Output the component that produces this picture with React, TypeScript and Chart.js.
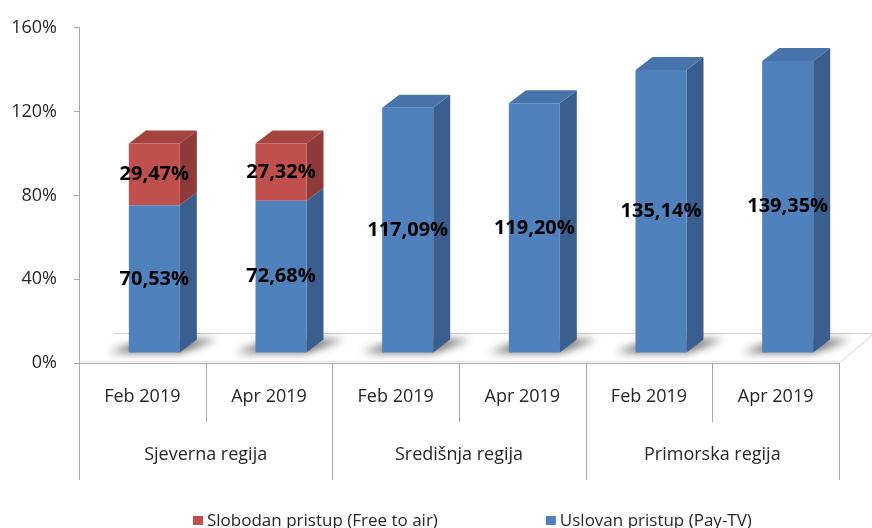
import React, { useEffect, useRef } from "react";
import { Chart, registerables } from "chart.js";

Chart.register(...registerables);

// ---- data ----
const categories = ["Feb 2019", "Apr 2019", "Feb 2019", "Apr 2019", "Feb 2019", "Apr 2019"];
const groups = ["Sjeverna regija", "Središnja regija", "Primorska regija"];
const payTv = [70.53, 72.68, 117.09, 119.2, 135.14, 139.35];
const freeToAir: (number | null)[] = [29.47, 27.32, null, null, null, null];
const yTicks = [0, 40, 80, 120, 160];
const seriesNames = ["Uslovan pristup (Pay-TV)", "Slobodan pristup (Free to air)"];

// ---- style ----
const FONT = '"Open Sans", "Noto Sans", sans-serif';
const TEXT = "#262626";
const AXIS = "#a6a6a6";
const BLUE = { front: "#4F81BD", side: "#3A5F8E", top: "#4874AC" };
const RED = { front: "#C0504D", side: "#8E3A38", top: "#A5433F" };
const SHIFT_X = 12;
const SHIFT_Y = -10;
const DX = 17;
const DY = 13;
const FLOOR_DX = 35;
const FLOOR_DY = 30;

const fmt = (v: number) => v.toFixed(2).replace(".", ",") + "%";

const threeD = {
  id: "threeD",
  beforeDatasetsDraw(chart: any) {
    const { ctx, chartArea: a } = chart;
    // floor
    ctx.save();
    ctx.strokeStyle = "#d0d0d0";
    ctx.lineWidth = 1;
    ctx.beginPath();
    ctx.moveTo(a.left + FLOOR_DX, a.bottom - FLOOR_DY + 0.5);
    ctx.lineTo(a.right + FLOOR_DX, a.bottom - FLOOR_DY + 0.5);
    ctx.moveTo(a.right + 0.5, a.bottom);
    ctx.lineTo(a.right + FLOOR_DX + 0.5, a.bottom - FLOOR_DY);
    ctx.stroke();
    ctx.restore();

    ctx.save();
    ctx.translate(SHIFT_X, SHIFT_Y);
    const metas = chart.data.datasets.map((_: any, i: number) => chart.getDatasetMeta(i));
    const n = chart.data.labels.length;
    // shadows
    for (let i = 0; i < n; i++) {
      const el = metas[0].data[i];
      const { x, base, width } = el.getProps(["x", "base", "width"], true);
      const xl = x - width / 2;
      const xr = x + width / 2;
      ctx.save();
      ctx.filter = "blur(4px)";
      ctx.fillStyle = "rgba(0,0,0,0.6)";
      ctx.beginPath();
      ctx.moveTo(xl - 20, base);
      ctx.lineTo(xr, base);
      ctx.lineTo(xr + DX + 20, base - DY);
      ctx.lineTo(xl + DX, base - DY);
      ctx.closePath();
      ctx.fill();
      ctx.restore();
    }
    // side and top faces
    for (let i = 0; i < n; i++) {
      let topDs = -1;
      chart.data.datasets.forEach((ds: any, d: number) => {
        if (ds.data[i] == null) return;
        topDs = d;
        const el = metas[d].data[i];
        const { x, y, base, width } = el.getProps(["x", "y", "base", "width"], true);
        const xr = x + width / 2;
        ctx.fillStyle = ds.faces.side;
        ctx.beginPath();
        ctx.moveTo(xr, base);
        ctx.lineTo(xr, y);
        ctx.lineTo(xr + DX, y - DY);
        ctx.lineTo(xr + DX, base - DY);
        ctx.closePath();
        ctx.fill();
      });
      if (topDs >= 0) {
        const ds = chart.data.datasets[topDs];
        const el = metas[topDs].data[i];
        const { x, y, width } = el.getProps(["x", "y", "width"], true);
        const xl = x - width / 2;
        const xr = x + width / 2;
        ctx.fillStyle = ds.faces.top;
        ctx.beginPath();
        ctx.moveTo(xl, y);
        ctx.lineTo(xl + DX, y - DY);
        ctx.lineTo(xr + DX, y - DY);
        ctx.lineTo(xr, y);
        ctx.closePath();
        ctx.fill();
      }
    }
    // keep translation active for the library's own bar drawing
  },
  afterDatasetsDraw(chart: any) {
    const { ctx } = chart;
    ctx.restore();
    // value labels
    ctx.save();
    ctx.translate(SHIFT_X, SHIFT_Y);
    ctx.font = `bold 20px ${FONT}`;
    ctx.fillStyle = "#000";
    ctx.textAlign = "center";
    ctx.textBaseline = "middle";
    chart.data.datasets.forEach((ds: any, d: number) => {
      const meta = chart.getDatasetMeta(d);
      ds.data.forEach((v: number | null, i: number) => {
        if (v == null) return;
        const { x, y, base } = meta.data[i].getProps(["x", "y", "base"], true);
        ctx.fillText(fmt(v), x, (y + base) / 2);
      });
    });
    ctx.restore();
  },
  afterDraw(chart: any) {
    const { ctx, chartArea: a } = chart;
    const xs = chart.scales.x;
    const n = categories.length;
    const step = (a.right - a.left) / n;
    ctx.save();
    // category axis line
    ctx.strokeStyle = AXIS;
    ctx.lineWidth = 1;
    ctx.beginPath();
    ctx.moveTo(a.left, a.bottom + 0.5);
    ctx.lineTo(a.right, a.bottom + 0.5);
    ctx.stroke();
    ctx.strokeStyle = "#e0e0e0";
    ctx.beginPath();
    ctx.moveTo(a.left, a.bottom - 1.5);
    ctx.lineTo(a.right, a.bottom - 1.5);
    ctx.stroke();
    // dividers
    ctx.strokeStyle = AXIS;
    ctx.beginPath();
    for (let i = 0; i <= n; i++) {
      const x = Math.round(a.left + i * step) + 0.5;
      const long = i % 2 === 0;
      ctx.moveTo(x, a.bottom);
      ctx.lineTo(x, a.bottom + (long ? 117 : 59));
    }
    ctx.stroke();
    // category labels
    ctx.fillStyle = TEXT;
    ctx.font = `18px ${FONT}`;
    ctx.textAlign = "center";
    ctx.textBaseline = "middle";
    categories.forEach((c, i) => {
      ctx.fillText(c, xs.getPixelForValue(i), a.bottom + 34);
    });
    groups.forEach((g, i) => {
      const cx = (xs.getPixelForValue(2 * i) + xs.getPixelForValue(2 * i + 1)) / 2;
      ctx.fillText(g, cx, a.bottom + 92);
    });
    // legend (reverse dataset order)
    ctx.font = `17px ${FONT}`;
    ctx.textAlign = "left";
    let lx = 193;
    const ly = 521;
    const items = chart.data.datasets.slice().reverse();
    items.forEach((ds: any) => {
      ctx.fillStyle = ds.backgroundColor;
      ctx.fillRect(lx, ly - 5, 10, 9);
      ctx.fillStyle = TEXT;
      ctx.fillText(ds.label, lx + 14, ly);
      lx += 14 + ctx.measureText(ds.label).width + 108;
    });
    ctx.restore();
  },
};

export default function App() {
  const ref = useRef<HTMLCanvasElement>(null);
  useEffect(() => {
    if (!ref.current) return;
    const chart = new Chart(ref.current, {
      type: "bar",
      data: {
        labels: categories,
        datasets: [
          {
            label: seriesNames[0],
            data: payTv,
            backgroundColor: BLUE.front,
            faces: BLUE,
            categoryPercentage: 1,
            barPercentage: 51 / 126.67,
          } as any,
          {
            label: seriesNames[1],
            data: freeToAir,
            backgroundColor: RED.front,
            faces: RED,
            categoryPercentage: 1,
            barPercentage: 51 / 126.67,
          } as any,
        ],
      },
      options: {
        responsive: false,
        animation: false,
        events: [],
        layout: { padding: { top: 21, bottom: 165, left: 0, right: 33 } },
        plugins: { legend: { display: false }, tooltip: { enabled: false } },
        scales: {
          x: { stacked: true, display: false },
          y: {
            stacked: true,
            min: 0,
            max: 160,
            afterBuildTicks: (s: any) => {
              s.ticks = yTicks.map((v) => ({ value: v }));
            },
            afterFit: (s: any) => {
              s.width = 79;
            },
            border: { display: true, color: AXIS },
            grid: { drawOnChartArea: false, drawTicks: true, tickLength: 5, color: AXIS },
            ticks: {
              padding: 17,
              color: TEXT,
              font: { family: FONT, size: 18 },
              callback: (v: any) => `${v}%`,
            },
          },
        },
      },
      plugins: [threeD],
    });
    return () => chart.destroy();
  }, []);
  return (
    <div style={{ position: "absolute", left: 0, top: 0, width: 872, height: 528, background: "#fff" }}>
      <canvas ref={ref} width={872} height={528} />
    </div>
  );
}
